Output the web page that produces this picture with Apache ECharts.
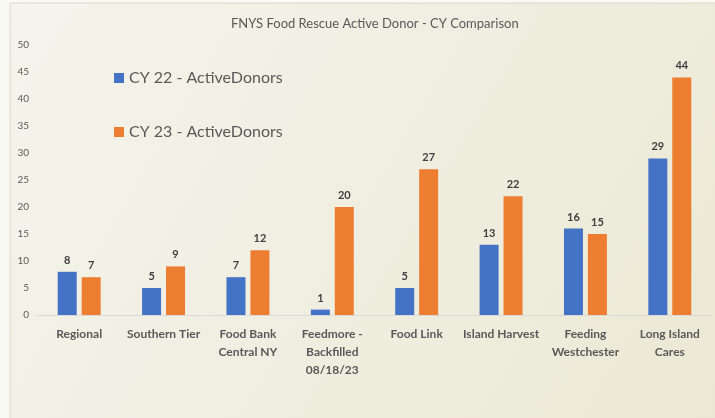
<!DOCTYPE html>
<html>
<head>
<meta charset="utf-8">
<script src="https://cdn.jsdelivr.net/npm/echarts@6/dist/echarts.min.js"></script>
<style>
  html, body { margin: 0; padding: 0; background: #fafaf5; }
  #chart { width: 715px; height: 418px; }
</style>
</head>
<body>
<div id="chart"></div>
<script>
const categories = ['Regional', 'Southern Tier', 'Food Bank\nCentral NY', 'Feedmore -\nBackfilled\n08/18/23',
  'Food Link', 'Island Harvest', 'Feeding\nWestchester', 'Long Island\nCares']
const cy22 = [8, 5, 7, 1, 5, 13, 16, 29]
const cy23 = [7, 9, 12, 20, 27, 22, 15, 44]
const yTicks = [0, 50, 5]

const chart = echarts.init(document.getElementById('chart'))

const font = 'Lato, "Open Sans", sans-serif'

const labelStyle = {
  show: true,
  position: 'top',
  color: '#404040',
  fontWeight: 'bold',
  fontSize: 11,
  fontFamily: font,
  distance: 6
}

chart.setOption({
  backgroundColor: 'transparent',
  graphic: [
    {
      type: 'rect',
      z: -10,
      shape: { x: 10, y: 3, width: 710, height: 420 },
      style: {
        fill: new echarts.graphic.LinearGradient(0, 0, 1, 1, [
          { offset: 0, color: '#f5f4ec' },
          { offset: 1, color: '#ebe8d4' }
        ]),
        stroke: '#d8d8d0',
        lineWidth: 1
      }
    }
  ],
  title: {
    text: 'FNYS Food Rescue Active Donor - CY Comparison',
    left: 226,
    top: 12,
    textStyle: { color: '#595959', fontSize: 13, fontWeight: 'normal', fontFamily: font }
  },
  legend: {
    orient: 'vertical',
    left: 109,
    top: 65,
    itemGap: 38,
    itemWidth: 10,
    itemHeight: 10,
    icon: 'rect',
    textStyle: { color: '#595959', fontSize: 16, fontFamily: font },
    data: ['CY 22 - ActiveDonors', 'CY 23 - ActiveDonors']
  },
  grid: { left: 37, right: 3, top: 45, bottom: 103, containLabel: false },
  xAxis: {
    type: 'category',
    data: categories,
    axisLine: { lineStyle: { color: '#d9d9d9' } },
    axisTick: { show: false },
    axisLabel: {
      interval: 0,
      color: '#595959',
      fontWeight: 'bold',
      fontSize: 12,
      fontFamily: font,
      lineHeight: 18,
      margin: 10
    }
  },
  yAxis: {
    type: 'value',
    min: yTicks[0],
    max: yTicks[1],
    interval: yTicks[2],
    axisLine: { show: false },
    axisTick: { show: false },
    splitLine: { show: false },
    axisLabel: { color: '#595959', fontSize: 10, fontFamily: font, margin: 8 }
  },
  series: [
    {
      name: 'CY 22 - ActiveDonors',
      type: 'bar',
      data: cy22,
      barWidth: 19,
      barGap: '26%',
      itemStyle: { color: '#4472c4' },
      label: labelStyle
    },
    {
      name: 'CY 23 - ActiveDonors',
      type: 'bar',
      data: cy23,
      barWidth: 19,
      itemStyle: { color: '#ed7d31' },
      label: labelStyle
    }
  ]
})
</script>
</body>
</html>
